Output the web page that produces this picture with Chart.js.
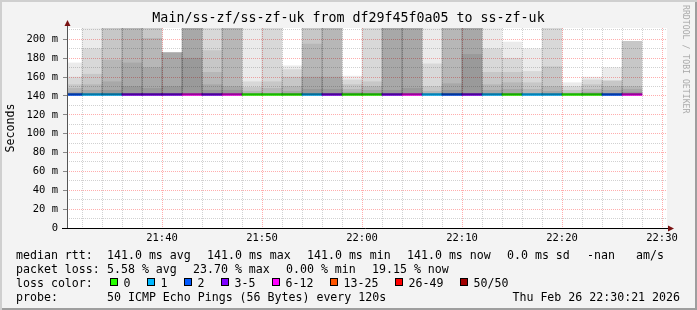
<!DOCTYPE html>
<html>
<head>
<meta charset="utf-8">
<script src="https://cdn.jsdelivr.net/npm/chart.js@4.4.1/dist/chart.umd.min.js"></script>
<style>
    html, body { margin: 0; padding: 0; background: #ffffff; }
    #wrap {
        position: relative; width: 697px; height: 310px; overflow: hidden;
        background: #f3f3f3;
        box-shadow: inset 2px 2px 0 #cfcfcf, inset -2px -2px 0 #9e9e9e;
        font-family: 'DejaVu Sans Mono', monospace;
    }
    #chart { position: absolute; left: 0; top: 0; }
    .t { position: absolute; font-size: 11.6px; line-height: 14px; white-space: pre; color: #000; }
    .box { position: absolute; width: 6px; height: 6px; border: 1px solid #000; top: 278px; }
    #rrd {
        position: absolute; left: 691px; top: 5px; font-size: 8.2px; line-height: 10px;
        color: #aaaaaa; white-space: pre; transform: rotate(90deg); transform-origin: left top;
    }
</style>
</head>
<body>
<div id="wrap">
    <canvas id="chart" width="697" height="310"></canvas>

    <div class="t" style="left:16px;top:248px">median rtt:</div>
    <div class="t" style="left:107px;top:248px">141.0 ms avg</div>
    <div class="t" style="left:207px;top:248px">141.0 ms max</div>
    <div class="t" style="left:307px;top:248px">141.0 ms min</div>
    <div class="t" style="left:407px;top:248px">141.0 ms now</div>
    <div class="t" style="left:507px;top:248px">0.0 ms sd</div>
    <div class="t" style="left:587px;top:248px">-nan</div>
    <div class="t" style="left:636px;top:248px">am/s</div>

    <div class="t" style="left:16px;top:262px">packet loss:</div>
    <div class="t" style="left:107px;top:262px">5.58 % avg</div>
    <div class="t" style="left:193px;top:262px">23.70 % max</div>
    <div class="t" style="left:286px;top:262px">0.00 % min</div>
    <div class="t" style="left:372px;top:262px">19.15 % now</div>

    <div class="t" style="left:16px;top:276px">loss color:</div>
    <div id="loss-legend"></div>

    <div class="t" style="left:16px;top:290px">probe:</div>
    <div class="t" style="left:107px;top:290px">50 ICMP Echo Pings (56 Bytes) every 120s</div>
    <div class="t" style="right:17px;top:290px">Thu Feb 26 22:30:21 2026</div>

    <span id="rrd">RRDTOOL / TOBI OETIKER</span>
</div>

<script>
const fontMono = "'DejaVu Sans Mono', monospace";

// début de chaque tranche de 2 minutes (une barre par tranche)
const barTimes = [
    '21:30', '21:32', '21:34', '21:36', '21:38', '21:40', '21:42', '21:44', '21:46', '21:48',
    '21:50', '21:52', '21:54', '21:56', '21:58', '22:00', '22:02', '22:04', '22:06', '22:08',
    '22:10', '22:12', '22:14', '22:16', '22:18', '22:20', '22:22', '22:24', '22:26'
];

// rtt médian (ms)
const medianRtt = [
    141, 141, 141, 141, 141, 141, 141, 141, 141, 141,
    141, 141, 141, 141, 141, 141, 141, 141, 141, 141,
    141, 141, 141, 141, 141, 141, 141, 141, 141
];

// fumée : hauteurs des couches (ms), de la plus haute à la plus basse
const smoke1 = [175, 212, 212, 212, 212, 186, 212, 212, 212, 212, 212, 172, 212, 212, 161, 212, 212, 212, 212, 212, 212, 212, 197, 190, 212, 154, 160, 170, 198];
const smoke2 = [160, 190, 212, 212, 212, 186, 212, 212, 212, 155, 212, 168, 212, 212, 157, 212, 212, 212, 174, 212, 212, 190, 180, 166, 212, 150, 157, 156, 198];
const smoke3 = [152, 163, 212, 212, 212, 186, 212, 188, 212, 149, 155, 160, 212, 212, 152, 155, 212, 212, 150, 212, 212, 165, 165, 154, 171, 146, 152, 156, 198];
const smoke4 = [148, 152, 178, 212, 201, 186, 212, 165, 212, 145, 148, 150, 195, 212, 147, 150, 212, 212, 145, 212, 212, 152, 154, 147, 150, 143, 147, 150, 150];
const smoke5 = [144, 146, 155, 175, 170, 186, 212, 152, 150, null, null, 145, 160, 160, 144, 146, 212, 212, null, 153, 212, 146, 147, null, 145, null, 144, 146, 147];
const smoke6 = [null, null, 146, 150, 148, 150, 180, 146, 146, null, null, null, 147, 147, null, null, 146, 148, null, 146, 184, null, null, null, null, null, null, null, 144];

// classe de perte de chaque barre (index dans lossLabels)
const lossIndex = [2, 1, 1, 3, 3, 3, 4, 3, 4, 0, 0, 0, 1, 3, 0, 0, 3, 4, 1, 2, 3, 1, 0, 1, 1, 0, 0, 2, 4];

const lossLabels = ['0', '1', '2', '3-5', '6-12', '13-25', '26-49', '50/50'];
const lossColors = ['#26ff00', '#00b8ff', '#0059ff', '#7e00ff', '#ff00ff', '#ff5500', '#ff0000', '#a10000'];

const xLabels = ['21:40', '21:50', '22:00', '22:10', '22:20', '22:30'];
const yLabels = ['0', '20 m', '40 m', '60 m', '80 m', '100 m', '120 m', '140 m', '160 m', '180 m', '200 m'];

const stepMin = 2;
const xMin = 30.5;   // 21:30:30, en minutes après 21:00
const xMax = 90.5;   // 22:30:30
const yMax = 212;

const majorGrid = 'rgba(255, 0, 0, 0.32)';
const minorGrid = 'rgba(140, 140, 140, 0.4)';
const smokeColor = 'rgba(0, 0, 0, 0.08)';

function toMin(hhmm) {
    const [h, m] = hhmm.split(':').map(Number);
    return (h - 21) * 60 + m;
}

function barCenter(i) {
    return toMin(barTimes[i]) + stepMin / 2;
}

function smokeDataset(levels) {
    const data = [];
    levels.forEach((top, i) => {
        if (top === null) return;
        data.push({ x: barCenter(i), y: [medianRtt[i], top] });
    });
    return { data: data, backgroundColor: smokeColor, grouped: false, clip: 0 };
}

// couleur de grille selon la graduation (majeure / mineure)
function gridColor(c, every) {
    if (!c.tick) return minorGrid;
    return c.tick.value % every === 0 ? majorGrid : minorGrid;
}

// légende des couleurs de perte
const lossBoxX = [109.5, 146.5, 183.5, 220.5, 271.5, 329.5, 394.5, 459.5];
const lossLegend = document.getElementById('loss-legend');
lossLabels.forEach((label, i) => {
    lossLegend.innerHTML += `
        <div class="box" style="left:${lossBoxX[i]}px;background:${lossColors[i]}"></div>
        <div class="t" style="left:${lossBoxX[i] + 14}px;top:276px">${label}</div>`;
});

const xTicks = [];
for (let m = 32; m <= 90; m += stepMin) xTicks.push(m);
const yTicks = [];
for (let v = 0; v <= 210; v += 10) yTicks.push(v);

// fond blanc, axes et flèches
const framePlugin = {
    id: 'frame',
    beforeDraw(chart) {
        const { ctx, chartArea: a } = chart;
        ctx.save();
        ctx.fillStyle = '#ffffff';
        ctx.fillRect(a.left, a.top, a.right - a.left, a.bottom - a.top);
        ctx.restore();
    },
    afterDraw(chart) {
        const { ctx, chartArea: a } = chart;
        ctx.save();
        ctx.lineWidth = 1;
        ctx.strokeStyle = '#555555';
        ctx.beginPath();
        ctx.moveTo(a.left + 0.5, a.bottom);
        ctx.lineTo(a.left + 0.5, a.top - 3);
        ctx.stroke();
        ctx.strokeStyle = '#000000';
        ctx.beginPath();
        ctx.moveTo(a.left - 5, a.bottom + 0.5);
        ctx.lineTo(a.right + 2, a.bottom + 0.5);
        ctx.stroke();
        ctx.fillStyle = '#7a1212';
        ctx.beginPath();
        ctx.moveTo(a.left - 2.5, a.top - 2);
        ctx.lineTo(a.left + 3.5, a.top - 2);
        ctx.lineTo(a.left + 0.5, a.top - 8);
        ctx.closePath();
        ctx.fill();
        ctx.beginPath();
        ctx.moveTo(a.right + 1, a.bottom - 2.5);
        ctx.lineTo(a.right + 1, a.bottom + 3.5);
        ctx.lineTo(a.right + 7, a.bottom + 0.5);
        ctx.closePath();
        ctx.fill();
        ctx.restore();
    }
};

Chart.defaults.font.family = fontMono;
Chart.defaults.color = '#000000';

const medianDataset = {
    data: medianRtt.map((v, i) => ({ x: barCenter(i), y: [v - 0.5, v + 1.5] })),
    backgroundColor: lossIndex.map(k => lossColors[k]),
    grouped: false,
    clip: 0
};

new Chart(document.getElementById('chart'), {
    type: 'bar',
    data: {
        datasets: [
            smokeDataset(smoke1), smokeDataset(smoke2), smokeDataset(smoke3),
            smokeDataset(smoke4), smokeDataset(smoke5), smokeDataset(smoke6),
            medianDataset
        ]
    },
    options: {
        responsive: false,
        animation: false,
        events: [],
        barPercentage: 1,
        categoryPercentage: 1,
        layout: { padding: 0 },
        plugins: {
            legend: { display: false },
            tooltip: { enabled: false },
            title: {
                display: true,
                text: 'Main/ss-zf/ss-zf-uk from df29f45f0a05 to ss-zf-uk',
                font: { family: fontMono, size: 13.3, weight: 'normal', lineHeight: '16px' },
                color: '#000000',
                padding: { top: 11, bottom: 1 }
            }
        },
        scales: {
            x: {
                type: 'linear',
                min: xMin,
                max: xMax,
                offset: false,
                z: 1,
                afterFit: s => { s.height = 82; },
                afterBuildTicks: s => { s.ticks = xTicks.map(v => ({ value: v })); },
                grid: {
                    color: c => gridColor(c, 10),
                    drawTicks: false,
                    offset: false
                },
                border: { display: false, dash: [1, 1] },
                ticks: {
                    autoSkip: false,
                    maxRotation: 0,
                    padding: 3.5,
                    font: { size: 10.5 },
                    callback: v => (v % 10 === 0 ? xLabels[(v - 40) / 10] : '')
                }
            },
            y: {
                type: 'linear',
                min: 0,
                max: yMax,
                z: 1,
                afterFit: s => { s.width = 67; },
                afterBuildTicks: s => { s.ticks = yTicks.map(v => ({ value: v })); },
                grid: {
                    color: c => gridColor(c, 20),
                    tickColor: c => (c.tick && c.tick.value % 20 === 0 ? '#888888' : 'rgba(0,0,0,0)'),
                    tickLength: 4
                },
                border: { display: false, dash: [1, 1] },
                ticks: {
                    autoSkip: false,
                    padding: 5,
                    font: { size: 10.5 },
                    callback: v => (v % 20 === 0 ? yLabels[v / 20] : '')
                },
                title: {
                    display: true,
                    text: 'Seconds',
                    font: { size: 11.6 },
                    padding: { top: 4, bottom: 0 }
                }
            },
            y2: {
                type: 'linear',
                position: 'right',
                afterFit: s => { s.width = 30; },
                grid: { display: false },
                border: { display: false },
                ticks: { display: false }
            }
        }
    },
    plugins: [framePlugin]
});
</script>
</body>
</html>
